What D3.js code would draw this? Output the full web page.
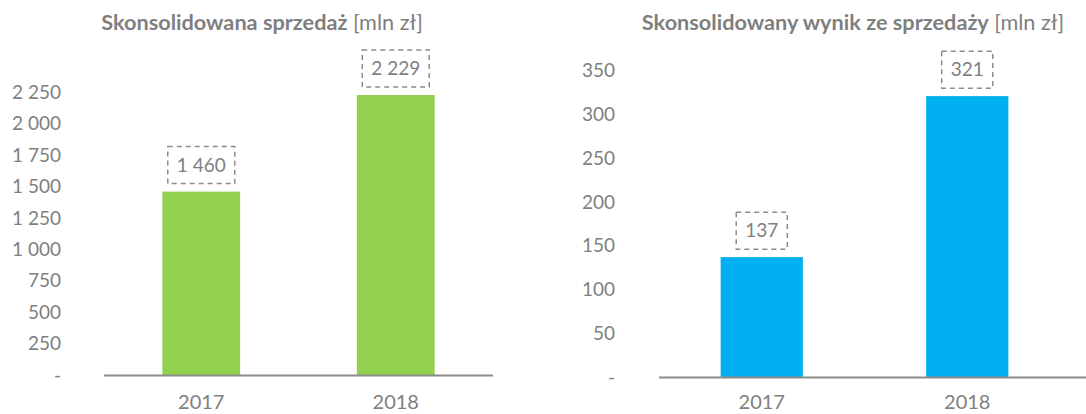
<!DOCTYPE html>
<html>
<head>
<meta charset="utf-8">
<script src="https://cdn.jsdelivr.net/npm/d3@7"></script>
<style>
  body { margin: 0; background: #fff; }
  text { font-family: Lato, "Open Sans", sans-serif; fill: #7f7f7f; }
</style>
</head>
<body>
<div id="chart"></div>
<script>
/* DATA */
const years = ["2017", "2018"];
const sales = [1460, 2229];
const salesResult = [137, 321];
const salesTicks = [0, 250, 500, 750, 1000, 1250, 1500, 1750, 2000, 2250];
const resultTicks = [0, 50, 100, 150, 200, 250, 300, 350];

const width = 1086, height = 414;

const svg = d3.select("#chart")
  .append("svg")
  .attr("width", width)
  .attr("height", height);

// 1 460 style: spaces as thousands separator, zero shown as dash
const fmt = d => d === 0 ? "-" : d3.format(",")(d).replace(/,/g, " ");

function drawPanel(opts) {
  const g = svg.append("g");

  const xScale = d3.scaleBand()
    .domain(years)
    .range(opts.xRange)
    .paddingInner(0.6)
    .paddingOuter(0.3);

  const yScale = d3.scaleLinear()
    .domain([0, opts.yMax])
    .range(opts.yRange);

  // title
  const title = g.append("text")
    .attr("x", opts.titleX)
    .attr("y", 30)
    .attr("text-anchor", "middle")
    .style("font-size", "21.7px");
  title.append("tspan").attr("font-weight", "bold").text(opts.titleBold);
  title.append("tspan").text(" [mln zł]");

  // y axis, labels only
  const yAxis = d3.axisLeft(yScale)
    .tickValues(opts.ticks)
    .tickFormat(fmt)
    .tickSize(0)
    .tickPadding(0);

  g.append("g")
    .attr("transform", `translate(${opts.yLabelX},0)`)
    .call(yAxis)
    .call(a => a.select(".domain").remove())
    .selectAll("text")
    .attr("fill", "#7f7f7f")
    .style("font-family", "Lato, sans-serif")
    .style("font-size", "19px");

  // bars
  g.selectAll(".bar")
    .data(opts.values)
    .join("rect")
    .attr("class", "bar")
    .attr("x", (d, i) => xScale(years[i]))
    .attr("y", d => yScale(d))
    .attr("width", xScale.bandwidth())
    .attr("height", d => yScale(0) - yScale(d))
    .attr("fill", opts.color);

  // baseline
  g.append("line")
    .attr("x1", opts.xRange[0])
    .attr("x2", opts.lineEnd)
    .attr("y1", yScale(0) + 0.5)
    .attr("y2", yScale(0) + 0.5)
    .attr("stroke", "#8c8c8c")
    .attr("stroke-width", 2);

  // x labels
  const xAxis = d3.axisBottom(xScale).tickSize(0).tickPadding(0);
  g.append("g")
    .attr("transform", `translate(0,${opts.xLabelY})`)
    .call(xAxis)
    .call(a => a.select(".domain").remove())
    .selectAll("text")
    .attr("fill", "#7f7f7f")
    .style("font-family", "Lato, sans-serif")
    .style("font-size", "20px");

  // value labels in dashed boxes
  const boxH = 37, gap = 8;
  const lbl = g.selectAll(".lbl")
    .data(opts.values)
    .join("g")
    .attr("class", "lbl");

  lbl.append("text")
    .attr("x", (d, i) => xScale(years[i]) + xScale.bandwidth() / 2)
    .attr("y", d => yScale(d) - gap - boxH / 2)
    .attr("dy", "0.35em")
    .attr("text-anchor", "middle")
    .style("font-size", "19px")
    .text(d => fmt(d));

  lbl.each(function(d, i) {
    const t = d3.select(this).select("text");
    const w = t.node().getComputedTextLength() + 18;
    const cx = xScale(years[i]) + xScale.bandwidth() / 2;
    d3.select(this).insert("rect", "text")
      .attr("x", cx - w / 2)
      .attr("y", yScale(d) - gap - boxH)
      .attr("width", w)
      .attr("height", boxH)
      .attr("fill", "none")
      .attr("stroke", "#8c8c8c")
      .attr("stroke-width", 1.5)
      .attr("stroke-dasharray", "5,4");
  });
}

drawPanel({
  values: sales,
  ticks: salesTicks,
  yMax: 2500,
  xRange: [104, 493],
  lineEnd: 493,
  yRange: [375, 61],
  yLabelX: 61,
  xLabelY: 395,
  color: "#92d050",
  titleX: 262,
  titleBold: "Skonsolidowana sprzedaż"
});

drawPanel({
  values: salesResult,
  ticks: resultTicks,
  yMax: 400,
  xRange: [659, 1070],
  lineEnd: 1086,
  yRange: [377, 27],
  yLabelX: 615,
  xLabelY: 395,
  color: "#00b0f0",
  titleX: 853,
  titleBold: "Skonsolidowany wynik ze sprzedaży"
});
</script>
</body>
</html>
